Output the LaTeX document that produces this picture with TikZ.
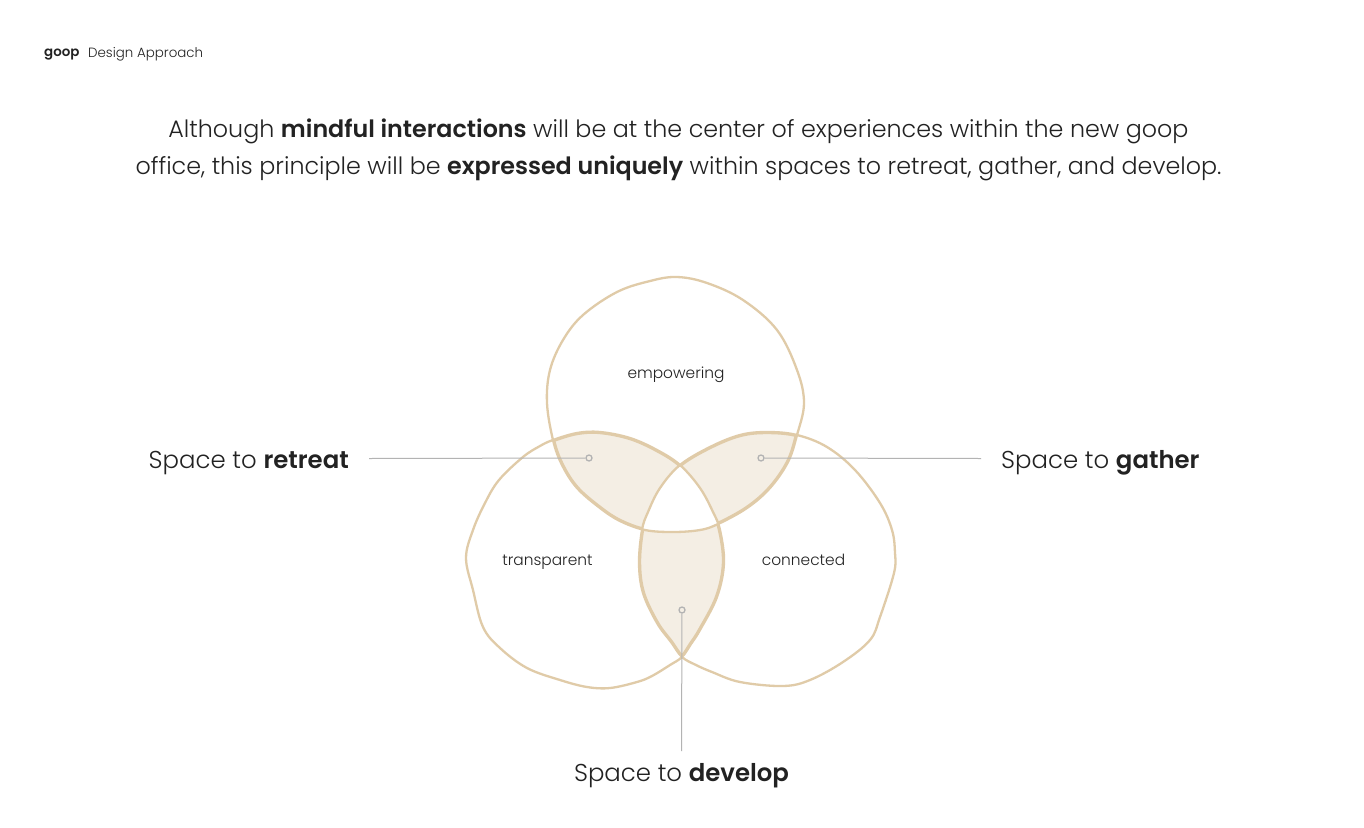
\documentclass[tikz,border=0pt]{standalone}
\usepackage{fontspec}
\setmainfont{Poppins}[UprightFont=* Light,BoldFont=* SemiBold]
\definecolor{tan}{HTML}{E0CBA8}
\definecolor{tint}{HTML}{F4EEE4}
\definecolor{ink}{HTML}{222222}
\definecolor{lead}{HTML}{B3B3B3}
\newcommand{\blobA}{plot[smooth cycle,tension=0.6] coordinates {(677,277)(650,281)(617,292)(583,315)(563,340)(550,370)(547,403)(553,440)(562,465)(577,488)(600,508)(620,521)(645,530)(673,532)(700,530)(718,524)(747,508)(770,488)(788,462)(797,435)(804,403)(797,370)(777,330)(743,300)(707,283)}}
\newcommand{\blobL}{plot[smooth cycle,tension=0.6] coordinates {(499,480)(523,457)(540,446)(553,440)(577,433)(600,432)(630,438)(657,450)(680,465)(700,488)(713,512)(720,530)(724,563)(717,597)(700,630)(691,644)(682,657)(670,665)(652,676)(637,682)(610,688)(587,687)(560,680)(527,668)(500,648)(483,627)(473,590)(466,558)(473,530)(485,503)}}
\newcommand{\blobR}{plot[smooth cycle,tension=0.6] coordinates {(680,465)(710,447)(740,435)(767,432)(797,435)(827,447)(855,470)(880,503)(892,530)(895,553)(894,573)(880,617)(870,640)(843,662)(810,680)(783,686)(740,682)(712,672)(696,665)(682,657)(671,642)(657,623)(643,593)(639,563)(642,530)(648,512)(660,488)}}
\tikzset{
  thinline/.style={draw=tan,line width=2.3pt},
  thickline/.style={draw=tan,line width=4.4pt},
  heading/.style={font=\fontsize{23.8}{37}\selectfont,text=ink,align=center,inner sep=0pt},
  callout/.style={font=\fontsize{24.4}{30}\selectfont,text=ink,inner sep=0pt},
  petal/.style={font=\fontsize{15.4}{20}\selectfont,text=ink,inner sep=0pt,anchor=base},
  small/.style={font=\fontsize{13.4}{18}\selectfont,text=ink,inner sep=0pt},
  dot/.style={circle,draw=lead,line width=1.3pt,fill=tint,minimum size=6pt,inner sep=0pt},
  leader/.style={draw=lead,line width=1pt}
}
\begin{document}
\begin{tikzpicture}[x=1pt,y=-1pt]
\useasboundingbox (0,0) rectangle (1364,827);
\fill[white] (0,0) rectangle (1364,827);
% tinted lenses with heavier edges
\foreach \p/\q in {\blobA/\blobL,\blobA/\blobR,\blobL/\blobR}{
  \begin{scope}
    \clip \p;
    \clip \q;
    \fill[tint] (0,0) rectangle (1364,827);
    \draw[thickline] \p;
    \draw[thickline] \q;
  \end{scope}
}
% centre stays white
\begin{scope}
  \clip \blobA;
  \clip \blobL;
  \clip \blobR;
  \fill[white] (0,0) rectangle (1364,827);
\end{scope}
\draw[thinline] \blobA;
\draw[thinline] \blobL;
\draw[thinline] \blobR;
% texts
\node[small,anchor=west] (brand) at (44,55) {\textbf{goop}};
\node[small,anchor=west] (title) at (88,54.5) {Design Approach};
\node[heading] (intro) at (678.5,149.5) {Although \textbf{mindful interactions} will be at the center of experiences within the new goop\\ office, this principle will be \textbf{expressed uniquely} within spaces to retreat, gather, and develop.};
\node[petal] (emp) at (676,378.5) {empowering};
\node[petal] (tra) at (547.5,565.5) {transparent};
\node[petal] (con) at (803.5,565.5) {connected};
\node[callout,anchor=east] (retreat) at (349,463) {Space to \textbf{retreat}};
\node[callout,anchor=west] (gather) at (1001,463) {Space to \textbf{gather}};
\node[callout] (develop) at (681.5,776) {Space to \textbf{develop}};
% leaders
\coordinate (e1) at (369,458.5);
\coordinate (e2) at (981,458.5);
\coordinate (e3) at (681.5,751);
\node[dot] (d1) at (589,458) {};
\node[dot] (d2) at (761,458) {};
\node[dot] (d3) at (682,610) {};
\draw[leader] (e1) -- (d1);
\draw[leader] (e2) -- (d2);
\draw[leader] (e3) -- (d3);
\end{tikzpicture}
\end{document}
